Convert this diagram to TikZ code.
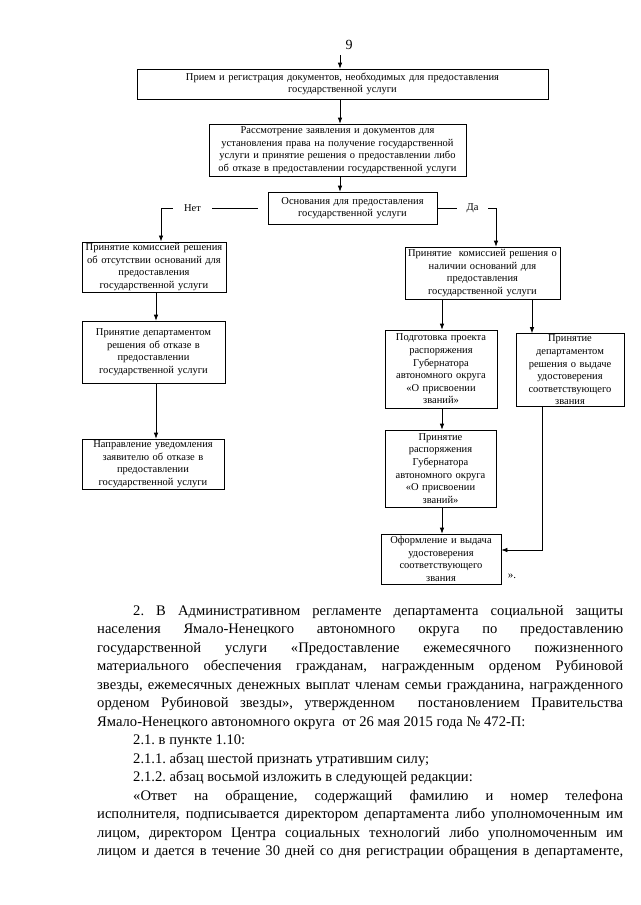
\documentclass[tikz,border=0pt]{standalone}
\usepackage{fontspec}
\setmainfont{Liberation Serif}
\usetikzlibrary{arrows.meta,calc}
\frenchspacing
\begin{document}
\begin{tikzpicture}[x=1pt,y=-1pt,
  box/.style={draw, line width=0.7pt, align=center, inner xsep=0.5pt, inner ysep=1.5pt, font=\fontsize{10.5}{12.6}\selectfont},
  arr/.style={line width=0.7pt, -{Latex[length=6pt,width=4.5pt]}},
  lbl/.style={fill=white, inner ysep=1pt, font=\fontsize{10.5}{12}\selectfont}]
\useasboundingbox (0,0) rectangle (640,905);
\node[font=\fontsize{14}{16}\selectfont] (pg) at (349,45) {9};
% boxes
\node[box, minimum width=411pt, minimum height=30pt, text width=409pt] (b1) at (342.5,84)
  {Прием и регистрация документов, необходимых для предоставления\\государственной услуги};
\node[box, minimum width=257pt, minimum height=52pt, text width=255pt] (b2) at (337.5,150)
  {Рассмотрение заявления и документов для\\установления права на получение государственной\\услуги и принятие решения о предоставлении либо\\об отказе в предоставлении государственной услуги};
\node[box, minimum width=169pt, minimum height=32pt, text width=167pt] (osn) at (352.5,208)
  {Основания для предоставления\\государственной услуги};
\node[box, minimum width=144pt, minimum height=50pt, text width=142pt] (L1) at (154,267)
  {Принятие комиссией решения\\об отсутствии оснований для\\предоставления\\государственной услуги};
\node[box, minimum width=143pt, minimum height=62pt, text width=141pt] (L2) at (153.5,352)
  {Принятие департаментом\\решения об отказе в\\предоставлении\\государственной услуги};
\node[box, minimum width=142pt, minimum height=50pt, text width=140pt] (L3) at (153,464)
  {Направление уведомления\\заявителю об отказе в\\предоставлении\\государственной услуги};
\node[box, minimum width=155pt, minimum height=52pt, text width=153pt] (R1) at (482.5,273)
  {Принятие\ \ комиссией решения о\\наличии оснований для\\предоставления\\государственной услуги};
\node[box, minimum width=112pt, minimum height=78pt, text width=110pt] (R2) at (441,369)
  {Подготовка проекта\\распоряжения\\Губернатора\\автономного округа\\«О присвоении\\званий»};
\node[box, minimum width=108pt, minimum height=73pt, text width=106pt] (R3) at (570,370)
  {Принятие\\департаментом\\решения о выдаче\\удостоверения\\соответствующего\\звания};
\node[box, minimum width=111pt, minimum height=77pt, text width=109pt] (R4) at (440.5,468.5)
  {Принятие\\распоряжения\\Губернатора\\автономного округа\\«О присвоении\\званий»};
\node[box, minimum width=120pt, minimum height=50pt, text width=118pt] (R5) at (441,559)
  {Оформление и выдача\\удостоверения\\соответствующего\\звания};
\node[font=\fontsize{11}{12}\selectfont] (q) at (512,576) {».};
% connectors
\coordinate (cx) at (340,55);
\draw[arr] (cx) -- (cx |- b1.north);
\draw[arr] (cx |- b1.south) -- (cx |- b2.north);
\draw[arr] (cx |- b2.south) -- (cx |- osn.north);
\coordinate (nc) at (161,208);
\draw[arr, shorten <=10pt] (osn.west) -- (nc) -- (nc |- L1.north);
\node[lbl, minimum width=39pt] (net) at (192.5,208) {Нет};
\coordinate (dc) at (496,208);
\draw[arr] (osn.east) -- (dc) -- (dc |- R1.north);
\node[lbl, minimum width=31pt] (da) at (472.5,208) {Да};
\coordinate (lc) at (156,0);
\draw[arr] (lc |- L1.south) -- (lc |- L2.north);
\draw[arr] (lc |- L2.south) -- (lc |- L3.north);
\coordinate (ra) at (442,0);
\draw[arr] (ra |- R1.south) -- (ra |- R2.north);
\draw[arr] (ra |- R2.south) -- (ra |- R4.north);
\draw[arr] (ra |- R4.south) -- (ra |- R5.north);
\coordinate (rc) at (532,0);
\draw[arr] (rc |- R1.south) -- (rc |- R3.north);
\coordinate (rk) at (542,550);
\draw[arr] (rk |- R3.south) -- (rk) -- (rk -| R5.east);
% body text
\node[anchor=north west, text width=526pt, inner sep=0pt, align=justify,
  font=\fontsize{14.6}{18.5}\selectfont] (body) at (97,605) {%
\hspace*{36pt}2. В Административном регламенте департамента социальной защиты\linebreak
населения Ямало-Ненецкого автономного округа по предоставлению\linebreak
государственной услуги «Предоставление ежемесячного пожизненного\linebreak
материального обеспечения гражданам, награжденным орденом Рубиновой\linebreak
звезды, ежемесячных денежных выплат членам семьи гражданина, награжденного\linebreak
орденом Рубиновой звезды», утвержденном\ \ постановлением Правительства\linebreak
Ямало-Ненецкого автономного округа\ \ от 26 мая 2015 года № 472-П:\par
\hspace*{36pt}2.1. в пункте 1.10:\par
\hspace*{36pt}2.1.1. абзац шестой признать утратившим силу;\par
\hspace*{36pt}2.1.2. абзац восьмой изложить в следующей редакции:\par
{\parfillskip=0pt
\hspace*{36pt}«Ответ на обращение, содержащий фамилию и номер телефона\linebreak
исполнителя, подписывается директором департамента либо уполномоченным им\linebreak
лицом, директором Центра социальных технологий либо уполномоченным им\linebreak
лицом и дается в течение 30 дней со дня регистрации обращения в департаменте,\par}};
\end{tikzpicture}
\end{document}
